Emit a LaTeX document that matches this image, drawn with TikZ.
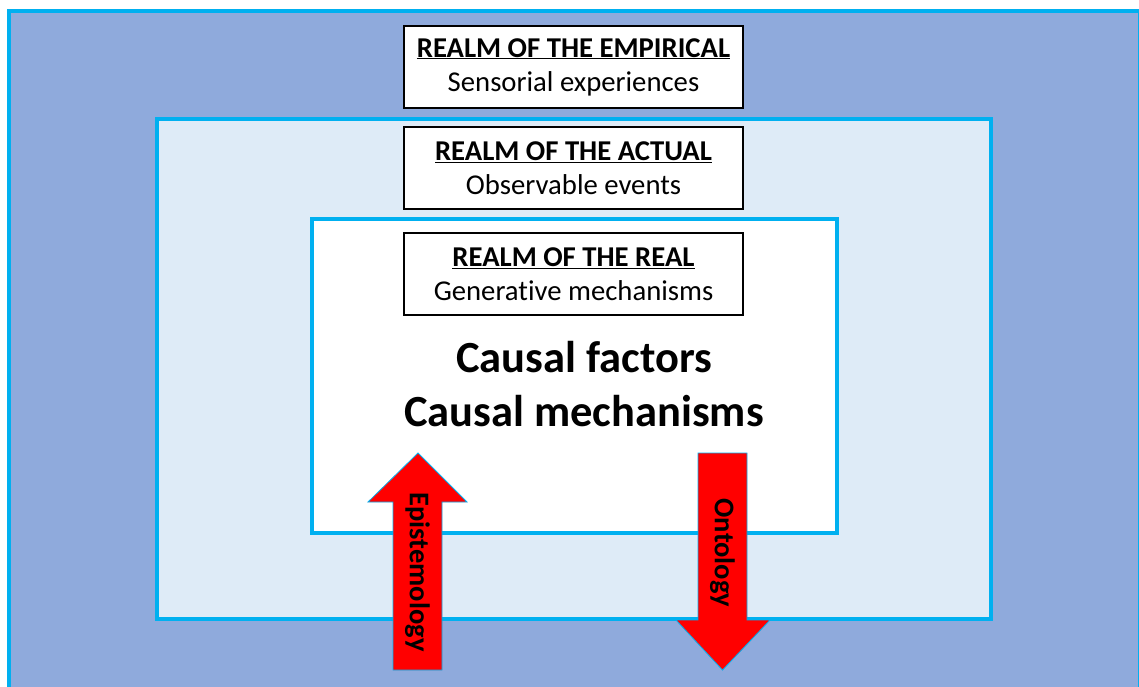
\documentclass[tikz,border=0pt]{standalone}
\usepackage{fontspec}
\setmainfont{Carlito}[Ligatures=NoCommon]
\definecolor{cyanB}{HTML}{00B0F0}
\definecolor{outerB}{HTML}{8FAADC}
\definecolor{midB}{HTML}{DEEBF7}
\definecolor{arrowR}{HTML}{FF0000}
\begin{document}
\begin{tikzpicture}[x=1pt,y=-1pt,
  realm/.style={line width=4pt, draw=cyanB},
  labelbox/.style={draw=black, line width=1.6pt, fill=white, minimum width=339pt, minimum height=82pt, inner sep=0pt, align=center, font=\fontsize{28.7}{34}\selectfont},
  bigarrow/.style={fill=arrowR, draw=cyanB, line width=0.8pt},
  arrowtext/.style={font=\fontsize{28.5}{30}\selectfont\bfseries, rotate=-90, inner sep=0pt},
  causal/.style={font=\fontsize{44.5}{54}\selectfont\bfseries, align=center, inner sep=0pt}]
\useasboundingbox (0,0) rectangle (1139,686);
\fill[white] (0,0) rectangle (1139,686);
\begin{scope}
\clip (0,0) rectangle (1139,686);
\draw[realm, fill=outerB] (9,11) rectangle (1140,700);
\end{scope}
\draw[realm, fill=midB] (157,118.5) rectangle (990.5,619);
\draw[realm, fill=white] (311.5,219) rectangle (836.5,533);
\node[labelbox] (empirical) at (573.5,67) {\underline{\textbf{REALM OF THE EMPIRICAL}}\\Sensorial experiences};
\node[labelbox] (actual) at (573.5,168) {\underline{\textbf{REALM OF THE ACTUAL}}\\Observable events};
\node[labelbox] (real) at (573.5,274) {\underline{\textbf{REALM OF THE REAL}}\\Generative mechanisms};
\node[causal] (causal) at (584,384) {Causal factors\\Causal mechanisms};
\draw[bigarrow] (418,453) -- (467,502) -- (442,502) -- (442,670) -- (393,670) -- (393,502) -- (368,502) -- cycle;
\draw[bigarrow] (698,453) -- (747,453) -- (747,620) -- (770,620) -- (722.5,670) -- (676,620) -- (698,620) -- cycle;
\node[arrowtext] (epi) at (417.5,572) {Epistemology};
\node[arrowtext] (onto) at (722.5,553) {Ontology};
\end{tikzpicture}
\end{document}
